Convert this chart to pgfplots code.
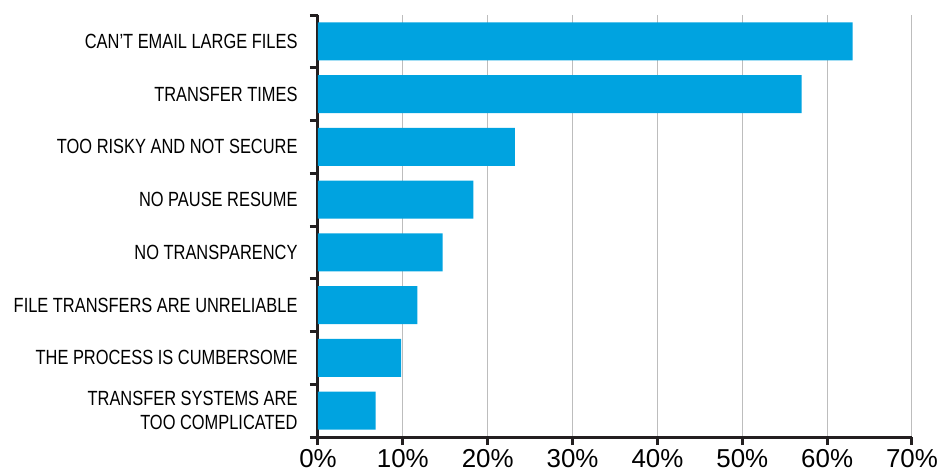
\documentclass[border=0pt]{standalone}
\usepackage{fontspec}
\setmainfont{Liberation Sans}[FakeStretch=0.8]
\newfontfamily\tickfont{Liberation Sans}
\usepackage{pgfplots}
\pgfplotsset{compat=1.18}
\definecolor{barblue}{HTML}{00A3E0}
\definecolor{axisdark}{HTML}{231F20}
\definecolor{gridgray}{HTML}{BDBDBD}
\pgfplotsset{
  every tick/.style={line width=3bp, draw=axisdark},
  every minor tick/.style={line width=3bp, draw=axisdark},
  every major tick/.style={line width=3bp, draw=axisdark},
}
\begin{document}
\begin{tikzpicture}
\useasboundingbox (-318bp,-36bp) rectangle (620bp,437bp);
\begin{axis}[
  at={(0,0)}, anchor=south west,
  scale only axis,
  width=594bp, height=422bp,
  xmin=0, xmax=70,
  ymin=0, ymax=8,
  y dir=reverse,
  axis x line*=bottom,
  axis y line*=left,
  axis line style={line width=3bp, draw=axisdark, -},
  xtick={0,10,...,70},
  xticklabel={\pgfmathprintnumber{\tick}\%},
  /pgf/number format/assume math mode=true,
  xticklabel style={font=\tickfont\fontsize{26}{28}\selectfont, yshift=-1bp},
  xmajorgrids,
  major x grid style={gridgray, line width=1bp},
  tick align=outside,
  major tick length=8bp,
  ytick={0.5,1.5,...,7.5},
  yticklabels={CAN'T EMAIL LARGE FILES, TRANSFER TIMES, TOO RISKY AND NOT SECURE, NO PAUSE RESUME, NO TRANSPARENCY, FILE TRANSFERS ARE UNRELIABLE, THE PROCESS IS CUMBERSOME, {TRANSFER SYSTEMS ARE\\TOO COMPLICATED}},
  yticklabel style={font=\fontsize{20.6}{24}\selectfont, align=right, xshift=-9bp},
  major y tick style={draw=none},
  minor ytick={0,1,...,8},
  minor tick length=8bp,
  xbar,
  bar width=0.72,
  bar shift=0pt,
  clip=false,
]
\addplot[fill=barblue, draw=none] coordinates {
 (63,0.5) (57,1.5) (23.2,2.5) (18.3,3.5) (14.7,4.5) (11.7,5.5) (9.8,6.5) (6.8,7.5)
};
\end{axis}
\end{tikzpicture}
\end{document}
